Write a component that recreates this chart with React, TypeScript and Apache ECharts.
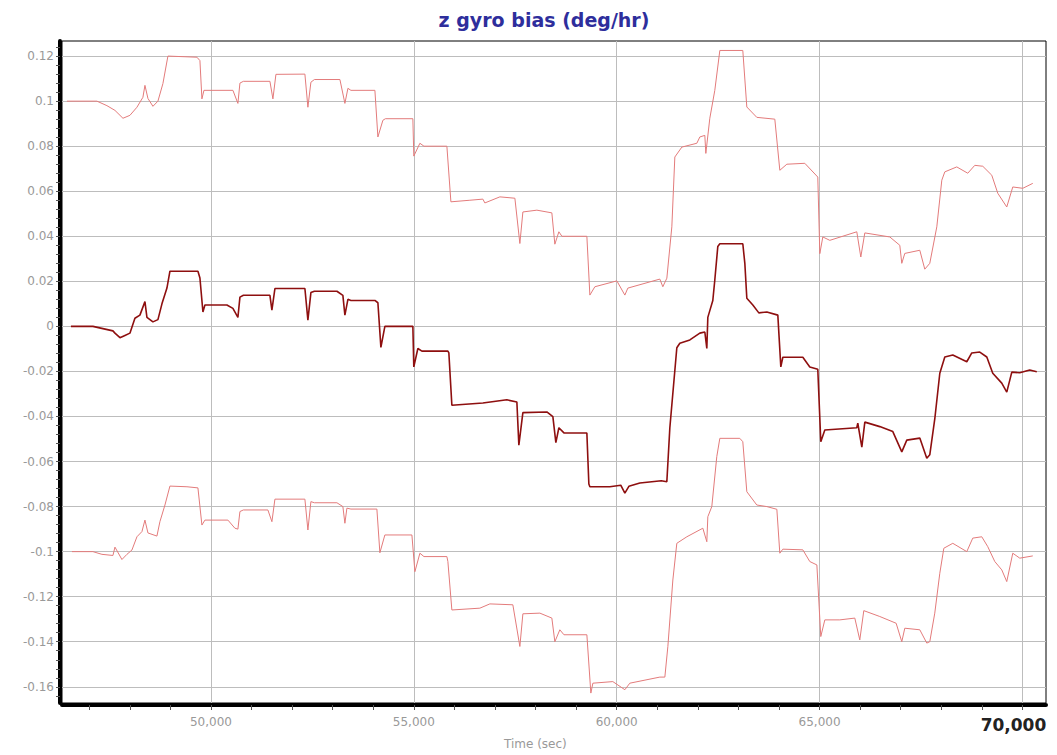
import React, { useEffect, useRef } from 'react';
import * as echarts from 'echarts';

const titleText = 'z gyro bias (deg/hr)';
const xAxisName = 'Time (sec)';
const xMajorTicks = [50000, 55000, 60000, 65000, 70000];
const yMajorTicks = [0.12, 0.1, 0.08, 0.06, 0.04, 0.02, 0, -0.02, -0.04, -0.06, -0.08, -0.1, -0.12, -0.14, -0.16];

const upperTime = [46452, 47191, 47437, 47635, 47832, 48004, 48177, 48324, 48374, 48448, 48571, 48694, 48817, 48940, 49655, 49729, 49778, 49828, 50542, 50665, 50715, 50800, 51454, 51528, 51602, 52316, 52390, 52464, 52550, 53179, 53302, 53376, 53450, 54041, 54115, 54238, 54300, 54977, 55000, 55150, 55250, 55815, 55914, 56382, 56702, 56751, 57121, 57491, 57614, 57688, 58033, 58402, 58476, 58575, 58650, 59265, 59339, 59462, 60004, 60201, 60275, 61063, 61137, 61236, 61359, 61433, 61606, 61975, 62049, 62172, 62197, 62295, 62418, 62542, 63108, 63207, 63453, 63897, 64020, 64193, 64636, 64956, 65006, 65080, 65252, 65917, 66016, 66115, 66731, 66977, 67026, 67100, 67470, 67593, 67716, 67889, 68012, 68086, 68381, 68652, 68825, 69022, 69244, 69392, 69613, 69761, 70008, 70254];
const upperBias = [0.1, 0.1, 0.098, 0.0959, 0.0924, 0.0937, 0.0973, 0.1017, 0.107, 0.1012, 0.0977, 0.1, 0.1078, 0.12, 0.1195, 0.118, 0.101, 0.1048, 0.1048, 0.099, 0.108, 0.1088, 0.1088, 0.101, 0.1119, 0.112, 0.0973, 0.1084, 0.1096, 0.1096, 0.099, 0.1057, 0.1048, 0.1048, 0.0841, 0.0915, 0.0922, 0.0922, 0.0756, 0.0813, 0.08, 0.08, 0.0553, 0.056, 0.0565, 0.0548, 0.0575, 0.0569, 0.0368, 0.0508, 0.0516, 0.0504, 0.0365, 0.042, 0.04, 0.04, 0.0139, 0.0176, 0.0202, 0.0139, 0.017, 0.021, 0.0176, 0.0214, 0.0442, 0.0752, 0.0796, 0.0813, 0.0841, 0.0848, 0.0768, 0.0924, 0.1048, 0.1225, 0.1225, 0.0974, 0.0928, 0.092, 0.0693, 0.072, 0.0724, 0.0663, 0.0323, 0.0397, 0.0382, 0.042, 0.0308, 0.0415, 0.0397, 0.036, 0.028, 0.0324, 0.0338, 0.0254, 0.028, 0.0442, 0.0649, 0.0686, 0.0708, 0.068, 0.0715, 0.0711, 0.0671, 0.0591, 0.053, 0.0619, 0.0613, 0.0635];

const meanTime = [46550, 47092, 47585, 47635, 47758, 47881, 48004, 48127, 48250, 48374, 48423, 48571, 48694, 48793, 48916, 48990, 49680, 49729, 49803, 49852, 50394, 50542, 50665, 50715, 50800, 51454, 51503, 51577, 52316, 52390, 52464, 52550, 53105, 53252, 53302, 53376, 53450, 54041, 54115, 54189, 54287, 54977, 55000, 55100, 55200, 55840, 55864, 55938, 56702, 57293, 57540, 57589, 57688, 58279, 58427, 58501, 58575, 58700, 59265, 59314, 59339, 59831, 60100, 60201, 60300, 60571, 61100, 61236, 61310, 61482, 61556, 61803, 62049, 62172, 62221, 62246, 62295, 62369, 62418, 62492, 62542, 63108, 63158, 63207, 63355, 63503, 63700, 63971, 64045, 64094, 64587, 64759, 64956, 65030, 65129, 65917, 65942, 66041, 66115, 66484, 66805, 67026, 67149, 67470, 67642, 67716, 67839, 67963, 68086, 68283, 68628, 68751, 68948, 69121, 69268, 69490, 69613, 69737, 69934, 70180, 70353];
const meanBias = [0, 0, -0.002, -0.003, -0.005, -0.004, -0.003, 0.0036, 0.005, 0.011, 0.004, 0.002, 0.003, 0.01, 0.017, 0.0245, 0.0245, 0.0215, 0.0064, 0.0095, 0.0095, 0.008, 0.004, 0.013, 0.0138, 0.0138, 0.0072, 0.0168, 0.0168, 0.0028, 0.015, 0.0156, 0.0156, 0.0138, 0.005, 0.012, 0.0115, 0.0115, 0.0105, -0.0093, 0, 0, -0.018, -0.0098, -0.011, -0.011, -0.0118, -0.035, -0.034, -0.0326, -0.0336, -0.0527, -0.0383, -0.038, -0.0401, -0.0516, -0.045, -0.0473, -0.0473, -0.07, -0.0712, -0.0712, -0.0705, -0.074, -0.071, -0.0695, -0.0685, -0.069, -0.045, -0.0095, -0.0075, -0.006, -0.003, -0.0025, -0.0098, 0.004, 0.007, 0.0115, 0.0206, 0.0355, 0.0367, 0.0367, 0.028, 0.0125, 0.0095, 0.006, 0.0064, 0.005, -0.018, -0.0137, -0.0137, -0.018, -0.019, -0.0512, -0.046, -0.045, -0.043, -0.0536, -0.0425, -0.0445, -0.0467, -0.0557, -0.0505, -0.0496, -0.0585, -0.057, -0.0411, -0.0208, -0.0136, -0.0127, -0.0157, -0.0118, -0.0114, -0.0136, -0.0208, -0.0252, -0.0292, -0.0203, -0.0206, -0.0194, -0.0201];

const lowerTime = [46575, 47092, 47314, 47585, 47635, 47807, 47930, 48053, 48177, 48300, 48374, 48448, 48669, 48743, 48867, 48990, 49409, 49680, 49778, 49852, 50419, 50591, 50665, 50715, 50800, 51404, 51503, 51577, 52316, 52390, 52464, 52550, 53105, 53252, 53302, 53351, 53450, 54090, 54164, 54287, 54953, 55027, 55150, 55250, 55815, 55840, 55938, 56628, 56875, 57441, 57614, 57688, 58107, 58402, 58476, 58599, 58700, 59265, 59363, 59413, 59905, 60201, 60324, 61063, 61187, 61261, 61384, 61482, 61729, 62123, 62221, 62246, 62344, 62467, 62542, 63034, 63108, 63207, 63453, 63700, 63947, 64020, 64094, 64587, 64759, 64933, 65030, 65129, 65499, 65868, 65991, 66090, 66484, 66887, 67026, 67100, 67470, 67642, 67716, 67839, 67963, 68062, 68283, 68628, 68775, 68997, 69145, 69318, 69490, 69613, 69761, 69934, 70254];
const lowerBias = [-0.1, -0.1, -0.1012, -0.1017, -0.098, -0.1035, -0.1012, -0.0993, -0.0934, -0.0911, -0.086, -0.0917, -0.0931, -0.0867, -0.0793, -0.0709, -0.0712, -0.0717, -0.0882, -0.086, -0.086, -0.0896, -0.09, -0.0822, -0.0815, -0.0815, -0.0867, -0.0767, -0.0767, -0.0904, -0.0778, -0.0783, -0.0783, -0.08, -0.0874, -0.0807, -0.0811, -0.0811, -0.1005, -0.0926, -0.0926, -0.1089, -0.1007, -0.1022, -0.1022, -0.1044, -0.1259, -0.1251, -0.1232, -0.1236, -0.1421, -0.1276, -0.1273, -0.1295, -0.14, -0.1347, -0.1369, -0.1369, -0.1628, -0.1584, -0.1577, -0.1613, -0.1584, -0.1557, -0.1557, -0.1421, -0.1126, -0.0963, -0.0934, -0.0896, -0.0956, -0.0845, -0.08, -0.0578, -0.0497, -0.0497, -0.0512, -0.0734, -0.0793, -0.08, -0.0812, -0.1007, -0.0989, -0.0992, -0.1044, -0.1059, -0.1377, -0.1303, -0.1303, -0.1295, -0.1392, -0.1262, -0.1288, -0.1318, -0.14, -0.134, -0.1347, -0.1406, -0.14, -0.1273, -0.1096, -0.0985, -0.0963, -0.1, -0.094, -0.0934, -0.0978, -0.1044, -0.1081, -0.1133, -0.1007, -0.1029, -0.1019];

const X_MIN = 46330;
const X_MAX = 70580;
const Y_MIN = -0.1672;
const Y_MAX = 0.1267;

const zip = (xs: number[], ys: number[]) => xs.map((x, i) => [x, ys[i]]);

export default function App() {
  const ref = useRef<HTMLDivElement>(null);
  useEffect(() => {
    if (!ref.current) return;
    const chart = echarts.init(ref.current, null, { renderer: 'svg' });

    const xMinor: number[] = [];
    for (let v = 47000; v <= 70000; v += 1000) xMinor.push(v);
    const yMinor: number[] = [];
    for (let k = -41; k <= 31; k++) yMinor.push(Math.round(k * 4) / 1000);

    const font = '"DejaVu Sans", Verdana, sans-serif';

    chart.setOption({
      animation: false,
      backgroundColor: '#ffffff',
      title: {
        text: titleText,
        left: 539,
        top: 5,
        textAlign: 'center',
        textStyle: { color: '#2e2e9c', fontSize: 19, fontWeight: 'bold', fontFamily: font },
      },
      graphic: [
        {
          type: 'text',
          left: 504,
          top: 738,
          style: { text: xAxisName, fill: '#999', fontSize: 12, fontFamily: font },
        },
      ],
      grid: {
        left: 62,
        right: 11,
        top: 41,
        bottom: 52,
        show: true,
        borderColor: '#000',
        borderWidth: 1,
        backgroundColor: 'transparent',
      },
      xAxis: {
        type: 'value',
        min: X_MIN,
        max: X_MAX,
        offset: 2,
        axisLine: { show: true, onZero: false, lineStyle: { color: '#000', width: 4 } },
        axisTick: { show: true, customValues: xMinor, length: 5, lineStyle: { color: '#555' } },
        axisLabel: {
          customValues: xMajorTicks,
          margin: 11,
          color: '#999',
          fontSize: 12,
          fontFamily: font,
          formatter: (v: number) => {
            const s = Math.round(v).toLocaleString('en-US');
            return v === 70000 ? '{b|' + s + '}' : s;
          },
          rich: {
            b: { color: '#222', fontSize: 17, fontWeight: 'bold', fontFamily: font, padding: [0, 18, 0, 0] },
          },
        },
        splitLine: { show: false },
      },
      yAxis: {
        type: 'value',
        min: Y_MIN,
        max: Y_MAX,
        offset: 2,
        axisLine: { show: true, onZero: false, lineStyle: { color: '#000', width: 4 } },
        axisTick: { show: true, customValues: yMinor, length: 4, lineStyle: { color: '#555' } },
        axisLabel: {
          customValues: yMajorTicks,
          margin: 6,
          color: '#999',
          fontSize: 12,
          fontFamily: font,
          formatter: (v: number) => String(+v.toFixed(2)),
        },
        splitLine: { show: false },
      },
      series: [
        {
          name: 'upper',
          type: 'line',
          data: zip(upperTime, upperBias),
          showSymbol: false,
          lineStyle: { color: '#e37b7b', width: 1 },
          z: 3,
          markLine: {
            silent: true,
            symbol: ['none', 'none'],
            z: 1,
            label: { show: false },
            lineStyle: { color: '#bdbdbd', width: 1, type: 'solid' },
            emphasis: { disabled: true },
            data: [
              ...yMajorTicks.map((v) => ({ yAxis: v })),
              ...xMajorTicks.map((v) => ({ xAxis: v })),
            ],
          },
        },
        {
          name: 'lower',
          type: 'line',
          data: zip(lowerTime, lowerBias),
          showSymbol: false,
          lineStyle: { color: '#e37b7b', width: 1 },
          z: 3,
        },
        {
          name: 'mean',
          type: 'line',
          data: zip(meanTime, meanBias),
          showSymbol: false,
          lineStyle: { color: '#8e0f0f', width: 1.6 },
          z: 4,
        },
      ],
    });
    return () => chart.dispose();
  }, []);
  return (
    <div
      ref={ref}
      style={{ position: 'fixed', left: 0, top: 0, width: 1057, height: 755, background: '#fff' }}
    />
  );
}
